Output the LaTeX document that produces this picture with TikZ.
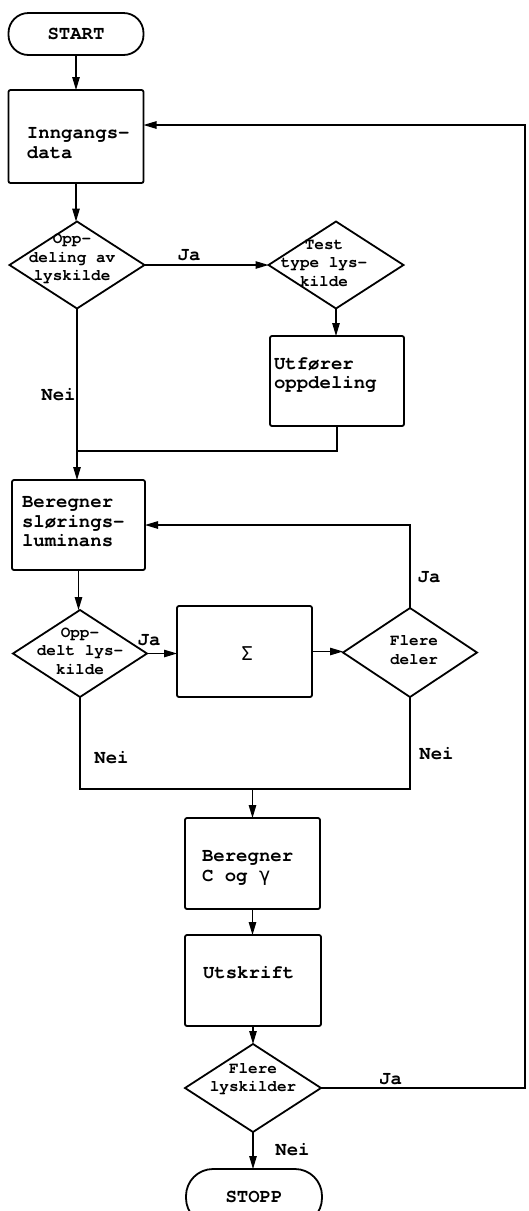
\documentclass[tikz,border=0pt]{standalone}
\usepackage{fontspec}
\setmainfont{texgyrecursor-bold.otf}
\newfontfamily\grk{DejaVu Sans Mono}
\usetikzlibrary{arrows.meta,shapes.geometric,calc}
\newcommand\bfnt{\fontsize{19}{19.5}\selectfont}
\newcommand\dfnt{\fontsize{16}{18.5}\selectfont}
\begin{document}
\begin{tikzpicture}[x=1pt,y=-1pt,
  every node/.style={inner sep=0pt, outer sep=0pt},
  box/.style={draw, rectangle, line width=1.8pt, rounded corners=2pt},
  dia/.style={draw, diamond, line width=1.8pt},
  term/.style={draw, rectangle, line width=1.8pt, font=\bfnt},
  btxt/.style={font=\bfnt, align=left, anchor=west},
  dtxt/.style={font=\dfnt, align=center},
  lbl/.style={font=\bfnt},
  conn/.style={line width=1.1pt},
  arr/.style={conn, -{Triangle[length=13pt,width=7.5pt]}},
]
\useasboundingbox (0,0) rectangle (529,1211);

% nodes
\node[term, rounded corners=20pt, minimum width=135pt, minimum height=42pt] (start) at (76,34) {START};
\node[box, minimum width=135pt, minimum height=93pt] (inn) at (76,136.5) {};
\node[btxt] (inn-t) at (27,143) {Inngangs-\\data};

\node[dia, minimum width=135pt, minimum height=87pt] (d1) at (77,265) {};
\node[dtxt] (d1-t) at (72,259) {Opp-\\deling av\\lyskilde};

\node[dia, minimum width=135pt, minimum height=87pt] (d2) at (336,265) {};
\node[dtxt] (d2-t) at (324,263) {Test\\type lys-\\kilde};

\node[box, minimum width=134pt, minimum height=90pt] (utf) at (337,381) {};
\node[btxt] (utf-t) at (274,375) {Utfører\\oppdeling};

\node[box, minimum width=133pt, minimum height=90pt] (ber) at (78.5,525) {};
\node[btxt] (ber-t) at (22,522) {Beregner\\slørings-\\luminans};

\node[dia, minimum width=134pt, minimum height=87pt] (d3) at (80,653.5) {};
\node[dtxt] (d3-t) at (80,651) {Opp-\\delt lys-\\kilde};

\node[box, minimum width=135pt, minimum height=91pt] (sum) at (244.5,651.5) {};
\node[font=\bfnt\grk] (sum-t) at (247,654) {Σ};

\node[dia, minimum width=134pt, minimum height=89pt] (d4) at (410,652.5) {};
\node[dtxt] (d4-t) at (414,650) {Flere\\deler};

\node[box, minimum width=135pt, minimum height=91pt] (bc) at (252.5,863.5) {};
\node[btxt] (bc-t) at (202,868) {Beregner\\C og {\grk γ}};

\node[box, minimum width=136pt, minimum height=91pt] (uts) at (253,980.5) {};
\node[btxt] (uts-t) at (203,973) {Utskrift};

\node[dia, minimum width=136pt, minimum height=88pt] (d5) at (253,1088) {};
\node[dtxt] (d5-t) at (253,1079) {Flere\\lyskilder};

\node[term, rounded corners=27pt, minimum width=136pt, minimum height=56pt] (stopp) at (254,1197) {STOPP};

% helper coordinates
\coordinate (yj) at (0,451);
\coordinate (ylow) at (0,789);
\coordinate (rx) at (525,0);
\coordinate (mrg) at (bc.north |- ylow);

% connectors
\draw[arr] (start) -- (inn);
\draw[arr] (inn.south) -- (inn.south |- d1.north);
\draw[arr] (d1.east) -- (d2.west);
\draw[arr] (d2.south) -- (d2.south |- utf.north);
\draw[conn] (utf.south) |- (d1.south |- yj);
\draw[arr] (d1.south) -- (d1.south |- ber.north);
\draw[arr] (ber.south) -- (ber.south |- d3.north);
\draw[arr] (d3.east) -- (d3.east -| sum.west);
\draw[arr] (sum.east) -- (sum.east -| d4.west);
\draw[arr] (d4.north) |- (ber.east);
\draw[conn] (d3.south) |- (mrg) -| (d4.south);
\draw[arr] (mrg) -- (bc.north);
\draw[arr] (bc.south) -- (bc.south |- uts.north);
\draw[arr] (uts.south) -- (uts.south |- d5.north);
\draw[arr] (d5.south) -- (d5.south |- stopp.north);
\draw[arr] (d5.east) -- (d5.east -| rx) |- ([yshift=11.5pt]inn.east);

% labels
\node[lbl] (ja1) at (189,255.5) {Ja};
\node[lbl] (nei1) at (58.5,395) {Nei};
\node[lbl] (ja2) at (149,640) {Ja};
\node[lbl] (ja3) at (429,577) {Ja};
\node[lbl] (nei2) at (111.5,758) {Nei};
\node[lbl] (nei3) at (436.5,753.5) {Nei};
\node[lbl] (ja4) at (390.5,1079.5) {Ja};
\node[lbl] (nei4) at (292.5,1149.5) {Nei};
\end{tikzpicture}
\end{document}
